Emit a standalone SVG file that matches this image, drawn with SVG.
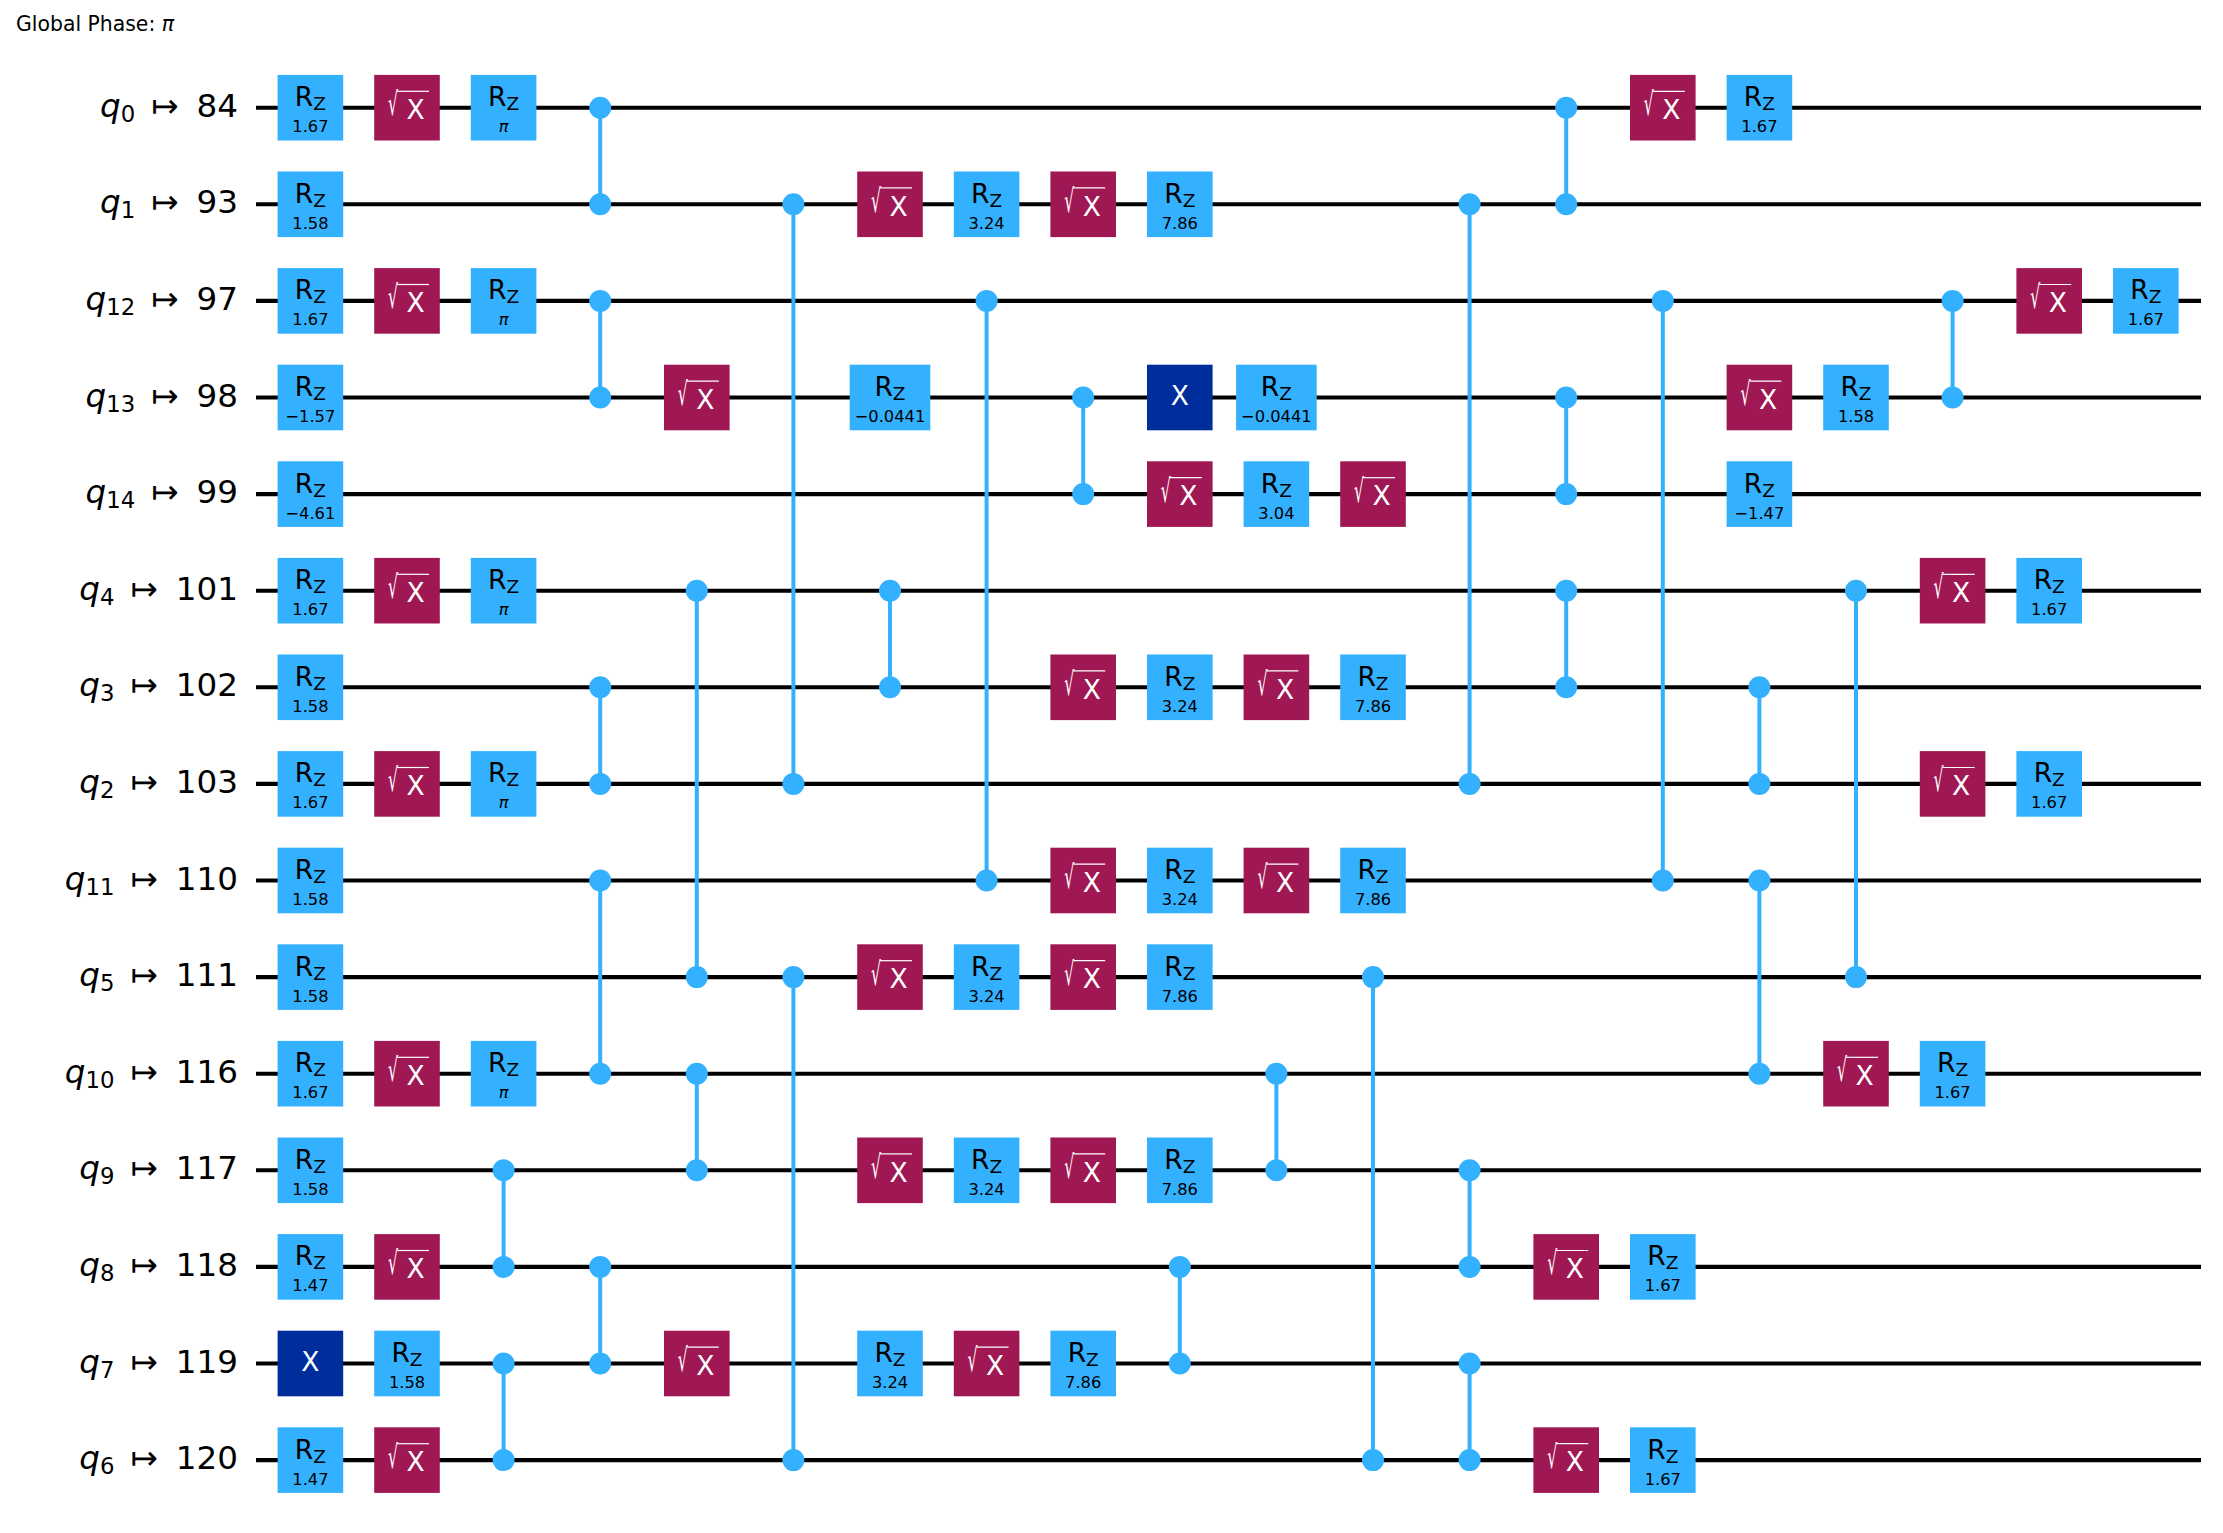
<svg xmlns="http://www.w3.org/2000/svg" width="2223" height="1533" viewBox="0 0 2223 1533">
<style>
text{font-family:"DejaVu Sans",sans-serif;fill:#000}
.wire{stroke:#000;stroke-width:4.1;fill:none}
.cz line{stroke:#33b1ff;stroke-width:4}
.cz circle{fill:#33b1ff}
.rz{fill:#33b1ff}
.sx{fill:#9f1853}
.x{fill:#002d9c}
.r{font-size:26.5px;text-anchor:middle}
.z{font-size:18.5px}
.p{font-size:16.3px;text-anchor:middle}
.pi{font-style:italic}
.sx text,.x text{fill:#fff;font-size:26.5px}
.x text{text-anchor:middle}
.sx text .rad{font-size:32px}
.bar{stroke:#fff;stroke-width:1.2}
.lb{font-size:32.6px;text-anchor:end}
.q{font-style:italic}
.sb{font-size:22.8px}
</style>
<rect width="2223" height="1533" fill="#fff"/>
<text id="global-phase" x="16" y="30.7" font-size="20.4">Global Phase: <tspan class="pi">π</tspan></text>
<g id="connectors">
<g id="wires">
<path class="wire" d="M256 107.7H2201M256 204.3H2201M256 300.9H2201M256 397.5H2201M256 494.1H2201M256 590.7H2201M256 687.3H2201M256 783.9H2201M256 880.5H2201M256 977.1H2201M256 1073.7H2201M256 1170.3H2201M256 1266.9H2201M256 1363.5H2201M256 1460.1H2201"/>
</g>
<g class="cz"><line x1="503.6" y1="1170.3" x2="503.6" y2="1266.9"/><circle cx="503.6" cy="1170.3" r="11"/><circle cx="503.6" cy="1266.9" r="11"/></g>
<g class="cz"><line x1="503.6" y1="1363.5" x2="503.6" y2="1460.1"/><circle cx="503.6" cy="1363.5" r="11"/><circle cx="503.6" cy="1460.1" r="11"/></g>
<g class="cz"><line x1="600.2" y1="107.7" x2="600.2" y2="204.3"/><circle cx="600.2" cy="107.7" r="11"/><circle cx="600.2" cy="204.3" r="11"/></g>
<g class="cz"><line x1="600.2" y1="300.9" x2="600.2" y2="397.5"/><circle cx="600.2" cy="300.9" r="11"/><circle cx="600.2" cy="397.5" r="11"/></g>
<g class="cz"><line x1="600.2" y1="687.3" x2="600.2" y2="783.9"/><circle cx="600.2" cy="687.3" r="11"/><circle cx="600.2" cy="783.9" r="11"/></g>
<g class="cz"><line x1="600.2" y1="880.5" x2="600.2" y2="1073.7"/><circle cx="600.2" cy="880.5" r="11"/><circle cx="600.2" cy="1073.7" r="11"/></g>
<g class="cz"><line x1="600.2" y1="1266.9" x2="600.2" y2="1363.5"/><circle cx="600.2" cy="1266.9" r="11"/><circle cx="600.2" cy="1363.5" r="11"/></g>
<g class="cz"><line x1="696.8" y1="590.7" x2="696.8" y2="977.1"/><circle cx="696.8" cy="590.7" r="11"/><circle cx="696.8" cy="977.1" r="11"/></g>
<g class="cz"><line x1="696.8" y1="1073.7" x2="696.8" y2="1170.3"/><circle cx="696.8" cy="1073.7" r="11"/><circle cx="696.8" cy="1170.3" r="11"/></g>
<g class="cz"><line x1="793.4" y1="204.3" x2="793.4" y2="783.9"/><circle cx="793.4" cy="204.3" r="11"/><circle cx="793.4" cy="783.9" r="11"/></g>
<g class="cz"><line x1="793.4" y1="977.1" x2="793.4" y2="1460.1"/><circle cx="793.4" cy="977.1" r="11"/><circle cx="793.4" cy="1460.1" r="11"/></g>
<g class="cz"><line x1="890" y1="590.7" x2="890" y2="687.3"/><circle cx="890" cy="590.7" r="11"/><circle cx="890" cy="687.3" r="11"/></g>
<g class="cz"><line x1="986.6" y1="300.9" x2="986.6" y2="880.5"/><circle cx="986.6" cy="300.9" r="11"/><circle cx="986.6" cy="880.5" r="11"/></g>
<g class="cz"><line x1="1083.2" y1="397.5" x2="1083.2" y2="494.1"/><circle cx="1083.2" cy="397.5" r="11"/><circle cx="1083.2" cy="494.1" r="11"/></g>
<g class="cz"><line x1="1179.8" y1="1266.9" x2="1179.8" y2="1363.5"/><circle cx="1179.8" cy="1266.9" r="11"/><circle cx="1179.8" cy="1363.5" r="11"/></g>
<g class="cz"><line x1="1276.4" y1="1073.7" x2="1276.4" y2="1170.3"/><circle cx="1276.4" cy="1073.7" r="11"/><circle cx="1276.4" cy="1170.3" r="11"/></g>
<g class="cz"><line x1="1373" y1="977.1" x2="1373" y2="1460.1"/><circle cx="1373" cy="977.1" r="11"/><circle cx="1373" cy="1460.1" r="11"/></g>
<g class="cz"><line x1="1469.6" y1="204.3" x2="1469.6" y2="783.9"/><circle cx="1469.6" cy="204.3" r="11"/><circle cx="1469.6" cy="783.9" r="11"/></g>
<g class="cz"><line x1="1469.6" y1="1170.3" x2="1469.6" y2="1266.9"/><circle cx="1469.6" cy="1170.3" r="11"/><circle cx="1469.6" cy="1266.9" r="11"/></g>
<g class="cz"><line x1="1469.6" y1="1363.5" x2="1469.6" y2="1460.1"/><circle cx="1469.6" cy="1363.5" r="11"/><circle cx="1469.6" cy="1460.1" r="11"/></g>
<g class="cz"><line x1="1566.2" y1="107.7" x2="1566.2" y2="204.3"/><circle cx="1566.2" cy="107.7" r="11"/><circle cx="1566.2" cy="204.3" r="11"/></g>
<g class="cz"><line x1="1566.2" y1="397.5" x2="1566.2" y2="494.1"/><circle cx="1566.2" cy="397.5" r="11"/><circle cx="1566.2" cy="494.1" r="11"/></g>
<g class="cz"><line x1="1566.2" y1="590.7" x2="1566.2" y2="687.3"/><circle cx="1566.2" cy="590.7" r="11"/><circle cx="1566.2" cy="687.3" r="11"/></g>
<g class="cz"><line x1="1662.8" y1="300.9" x2="1662.8" y2="880.5"/><circle cx="1662.8" cy="300.9" r="11"/><circle cx="1662.8" cy="880.5" r="11"/></g>
<g class="cz"><line x1="1759.4" y1="687.3" x2="1759.4" y2="783.9"/><circle cx="1759.4" cy="687.3" r="11"/><circle cx="1759.4" cy="783.9" r="11"/></g>
<g class="cz"><line x1="1759.4" y1="880.5" x2="1759.4" y2="1073.7"/><circle cx="1759.4" cy="880.5" r="11"/><circle cx="1759.4" cy="1073.7" r="11"/></g>
<g class="cz"><line x1="1856" y1="590.7" x2="1856" y2="977.1"/><circle cx="1856" cy="590.7" r="11"/><circle cx="1856" cy="977.1" r="11"/></g>
<g class="cz"><line x1="1952.6" y1="300.9" x2="1952.6" y2="397.5"/><circle cx="1952.6" cy="300.9" r="11"/><circle cx="1952.6" cy="397.5" r="11"/></g>
</g>
<g id="labels">
<text id="label-q0" class="lb" x="238" y="116.7"><tspan class="q">q</tspan><tspan class="sb" dy="5">0</tspan><tspan dx="16" dy="-5">↦</tspan><tspan dx="18">84</tspan></text>
<text id="label-q1" class="lb" x="238" y="213.3"><tspan class="q">q</tspan><tspan class="sb" dy="5">1</tspan><tspan dx="16" dy="-5">↦</tspan><tspan dx="18">93</tspan></text>
<text id="label-q12" class="lb" x="238" y="309.9"><tspan class="q">q</tspan><tspan class="sb" dy="5">12</tspan><tspan dx="16" dy="-5">↦</tspan><tspan dx="18">97</tspan></text>
<text id="label-q13" class="lb" x="238" y="406.5"><tspan class="q">q</tspan><tspan class="sb" dy="5">13</tspan><tspan dx="16" dy="-5">↦</tspan><tspan dx="18">98</tspan></text>
<text id="label-q14" class="lb" x="238" y="503.1"><tspan class="q">q</tspan><tspan class="sb" dy="5">14</tspan><tspan dx="16" dy="-5">↦</tspan><tspan dx="18">99</tspan></text>
<text id="label-q4" class="lb" x="238" y="599.7"><tspan class="q">q</tspan><tspan class="sb" dy="5">4</tspan><tspan dx="16" dy="-5">↦</tspan><tspan dx="18">101</tspan></text>
<text id="label-q3" class="lb" x="238" y="696.3"><tspan class="q">q</tspan><tspan class="sb" dy="5">3</tspan><tspan dx="16" dy="-5">↦</tspan><tspan dx="18">102</tspan></text>
<text id="label-q2" class="lb" x="238" y="792.9"><tspan class="q">q</tspan><tspan class="sb" dy="5">2</tspan><tspan dx="16" dy="-5">↦</tspan><tspan dx="18">103</tspan></text>
<text id="label-q11" class="lb" x="238" y="889.5"><tspan class="q">q</tspan><tspan class="sb" dy="5">11</tspan><tspan dx="16" dy="-5">↦</tspan><tspan dx="18">110</tspan></text>
<text id="label-q5" class="lb" x="238" y="986.1"><tspan class="q">q</tspan><tspan class="sb" dy="5">5</tspan><tspan dx="16" dy="-5">↦</tspan><tspan dx="18">111</tspan></text>
<text id="label-q10" class="lb" x="238" y="1082.7"><tspan class="q">q</tspan><tspan class="sb" dy="5">10</tspan><tspan dx="16" dy="-5">↦</tspan><tspan dx="18">116</tspan></text>
<text id="label-q9" class="lb" x="238" y="1179.3"><tspan class="q">q</tspan><tspan class="sb" dy="5">9</tspan><tspan dx="16" dy="-5">↦</tspan><tspan dx="18">117</tspan></text>
<text id="label-q8" class="lb" x="238" y="1275.9"><tspan class="q">q</tspan><tspan class="sb" dy="5">8</tspan><tspan dx="16" dy="-5">↦</tspan><tspan dx="18">118</tspan></text>
<text id="label-q7" class="lb" x="238" y="1372.5"><tspan class="q">q</tspan><tspan class="sb" dy="5">7</tspan><tspan dx="16" dy="-5">↦</tspan><tspan dx="18">119</tspan></text>
<text id="label-q6" class="lb" x="238" y="1469.1"><tspan class="q">q</tspan><tspan class="sb" dy="5">6</tspan><tspan dx="16" dy="-5">↦</tspan><tspan dx="18">120</tspan></text>
</g>
<g id="gates">
<defs>
<rect id="b" x="-32.8" y="-32.8" width="65.6" height="65.6"/>
<rect id="bw" x="-40.3" y="-32.8" width="80.6" height="65.6"/>
<line id="sb" class="bar" x1="-10" y1="-16.4" x2="22" y2="-16.4"/>
</defs>
<g id="w0-rz0" class="rz" transform="translate(310.4,107.7)"><use href="#b"/><text class="r" y="-1.5">R<tspan class="z" dy="4">Z</tspan></text><text class="p" y="24.5">1.67</text></g>
<g id="w0-sx1" class="sx" transform="translate(407,107.7)"><use href="#b"/><use href="#sb"/><text x="-19"><tspan class="rad" y="7.5" textLength="10" lengthAdjust="spacingAndGlyphs">√</tspan><tspan x="-0.5" y="11.3">X</tspan></text></g>
<g id="w0-rz2" class="rz" transform="translate(503.6,107.7)"><use href="#b"/><text class="r" y="-1.5">R<tspan class="z" dy="4">Z</tspan></text><text class="p pi" y="24.5">π</text></g>
<g id="w0-sx14" class="sx" transform="translate(1662.8,107.7)"><use href="#b"/><use href="#sb"/><text x="-19"><tspan class="rad" y="7.5" textLength="10" lengthAdjust="spacingAndGlyphs">√</tspan><tspan x="-0.5" y="11.3">X</tspan></text></g>
<g id="w0-rz15" class="rz" transform="translate(1759.4,107.7)"><use href="#b"/><text class="r" y="-1.5">R<tspan class="z" dy="4">Z</tspan></text><text class="p" y="24.5">1.67</text></g>
<g id="w1-rz0" class="rz" transform="translate(310.4,204.3)"><use href="#b"/><text class="r" y="-1.5">R<tspan class="z" dy="4">Z</tspan></text><text class="p" y="24.5">1.58</text></g>
<g id="w1-sx6" class="sx" transform="translate(890,204.3)"><use href="#b"/><use href="#sb"/><text x="-19"><tspan class="rad" y="7.5" textLength="10" lengthAdjust="spacingAndGlyphs">√</tspan><tspan x="-0.5" y="11.3">X</tspan></text></g>
<g id="w1-rz7" class="rz" transform="translate(986.6,204.3)"><use href="#b"/><text class="r" y="-1.5">R<tspan class="z" dy="4">Z</tspan></text><text class="p" y="24.5">3.24</text></g>
<g id="w1-sx8" class="sx" transform="translate(1083.2,204.3)"><use href="#b"/><use href="#sb"/><text x="-19"><tspan class="rad" y="7.5" textLength="10" lengthAdjust="spacingAndGlyphs">√</tspan><tspan x="-0.5" y="11.3">X</tspan></text></g>
<g id="w1-rz9" class="rz" transform="translate(1179.8,204.3)"><use href="#b"/><text class="r" y="-1.5">R<tspan class="z" dy="4">Z</tspan></text><text class="p" y="24.5">7.86</text></g>
<g id="w2-rz0" class="rz" transform="translate(310.4,300.9)"><use href="#b"/><text class="r" y="-1.5">R<tspan class="z" dy="4">Z</tspan></text><text class="p" y="24.5">1.67</text></g>
<g id="w2-sx1" class="sx" transform="translate(407,300.9)"><use href="#b"/><use href="#sb"/><text x="-19"><tspan class="rad" y="7.5" textLength="10" lengthAdjust="spacingAndGlyphs">√</tspan><tspan x="-0.5" y="11.3">X</tspan></text></g>
<g id="w2-rz2" class="rz" transform="translate(503.6,300.9)"><use href="#b"/><text class="r" y="-1.5">R<tspan class="z" dy="4">Z</tspan></text><text class="p pi" y="24.5">π</text></g>
<g id="w2-sx18" class="sx" transform="translate(2049.2,300.9)"><use href="#b"/><use href="#sb"/><text x="-19"><tspan class="rad" y="7.5" textLength="10" lengthAdjust="spacingAndGlyphs">√</tspan><tspan x="-0.5" y="11.3">X</tspan></text></g>
<g id="w2-rz19" class="rz" transform="translate(2145.8,300.9)"><use href="#b"/><text class="r" y="-1.5">R<tspan class="z" dy="4">Z</tspan></text><text class="p" y="24.5">1.67</text></g>
<g id="w3-rz0" class="rz" transform="translate(310.4,397.5)"><use href="#b"/><text class="r" y="-1.5">R<tspan class="z" dy="4">Z</tspan></text><text class="p" y="24.5">−1.57</text></g>
<g id="w3-sx4" class="sx" transform="translate(696.8,397.5)"><use href="#b"/><use href="#sb"/><text x="-19"><tspan class="rad" y="7.5" textLength="10" lengthAdjust="spacingAndGlyphs">√</tspan><tspan x="-0.5" y="11.3">X</tspan></text></g>
<g id="w3-rz6" class="rz" transform="translate(890,397.5)"><use href="#bw"/><text class="r" y="-1.5">R<tspan class="z" dy="4">Z</tspan></text><text class="p" y="24.5">−0.0441</text></g>
<g id="w3-x9" class="x" transform="translate(1179.8,397.5)"><use href="#b"/><text y="7.5">X</text></g>
<g id="w3-rz10" class="rz" transform="translate(1276.4,397.5)"><use href="#bw"/><text class="r" y="-1.5">R<tspan class="z" dy="4">Z</tspan></text><text class="p" y="24.5">−0.0441</text></g>
<g id="w3-sx15" class="sx" transform="translate(1759.4,397.5)"><use href="#b"/><use href="#sb"/><text x="-19"><tspan class="rad" y="7.5" textLength="10" lengthAdjust="spacingAndGlyphs">√</tspan><tspan x="-0.5" y="11.3">X</tspan></text></g>
<g id="w3-rz16" class="rz" transform="translate(1856,397.5)"><use href="#b"/><text class="r" y="-1.5">R<tspan class="z" dy="4">Z</tspan></text><text class="p" y="24.5">1.58</text></g>
<g id="w4-rz0" class="rz" transform="translate(310.4,494.1)"><use href="#b"/><text class="r" y="-1.5">R<tspan class="z" dy="4">Z</tspan></text><text class="p" y="24.5">−4.61</text></g>
<g id="w4-sx9" class="sx" transform="translate(1179.8,494.1)"><use href="#b"/><use href="#sb"/><text x="-19"><tspan class="rad" y="7.5" textLength="10" lengthAdjust="spacingAndGlyphs">√</tspan><tspan x="-0.5" y="11.3">X</tspan></text></g>
<g id="w4-rz10" class="rz" transform="translate(1276.4,494.1)"><use href="#b"/><text class="r" y="-1.5">R<tspan class="z" dy="4">Z</tspan></text><text class="p" y="24.5">3.04</text></g>
<g id="w4-sx11" class="sx" transform="translate(1373,494.1)"><use href="#b"/><use href="#sb"/><text x="-19"><tspan class="rad" y="7.5" textLength="10" lengthAdjust="spacingAndGlyphs">√</tspan><tspan x="-0.5" y="11.3">X</tspan></text></g>
<g id="w4-rz15" class="rz" transform="translate(1759.4,494.1)"><use href="#b"/><text class="r" y="-1.5">R<tspan class="z" dy="4">Z</tspan></text><text class="p" y="24.5">−1.47</text></g>
<g id="w5-rz0" class="rz" transform="translate(310.4,590.7)"><use href="#b"/><text class="r" y="-1.5">R<tspan class="z" dy="4">Z</tspan></text><text class="p" y="24.5">1.67</text></g>
<g id="w5-sx1" class="sx" transform="translate(407,590.7)"><use href="#b"/><use href="#sb"/><text x="-19"><tspan class="rad" y="7.5" textLength="10" lengthAdjust="spacingAndGlyphs">√</tspan><tspan x="-0.5" y="11.3">X</tspan></text></g>
<g id="w5-rz2" class="rz" transform="translate(503.6,590.7)"><use href="#b"/><text class="r" y="-1.5">R<tspan class="z" dy="4">Z</tspan></text><text class="p pi" y="24.5">π</text></g>
<g id="w5-sx17" class="sx" transform="translate(1952.6,590.7)"><use href="#b"/><use href="#sb"/><text x="-19"><tspan class="rad" y="7.5" textLength="10" lengthAdjust="spacingAndGlyphs">√</tspan><tspan x="-0.5" y="11.3">X</tspan></text></g>
<g id="w5-rz18" class="rz" transform="translate(2049.2,590.7)"><use href="#b"/><text class="r" y="-1.5">R<tspan class="z" dy="4">Z</tspan></text><text class="p" y="24.5">1.67</text></g>
<g id="w6-rz0" class="rz" transform="translate(310.4,687.3)"><use href="#b"/><text class="r" y="-1.5">R<tspan class="z" dy="4">Z</tspan></text><text class="p" y="24.5">1.58</text></g>
<g id="w6-sx8" class="sx" transform="translate(1083.2,687.3)"><use href="#b"/><use href="#sb"/><text x="-19"><tspan class="rad" y="7.5" textLength="10" lengthAdjust="spacingAndGlyphs">√</tspan><tspan x="-0.5" y="11.3">X</tspan></text></g>
<g id="w6-rz9" class="rz" transform="translate(1179.8,687.3)"><use href="#b"/><text class="r" y="-1.5">R<tspan class="z" dy="4">Z</tspan></text><text class="p" y="24.5">3.24</text></g>
<g id="w6-sx10" class="sx" transform="translate(1276.4,687.3)"><use href="#b"/><use href="#sb"/><text x="-19"><tspan class="rad" y="7.5" textLength="10" lengthAdjust="spacingAndGlyphs">√</tspan><tspan x="-0.5" y="11.3">X</tspan></text></g>
<g id="w6-rz11" class="rz" transform="translate(1373,687.3)"><use href="#b"/><text class="r" y="-1.5">R<tspan class="z" dy="4">Z</tspan></text><text class="p" y="24.5">7.86</text></g>
<g id="w7-rz0" class="rz" transform="translate(310.4,783.9)"><use href="#b"/><text class="r" y="-1.5">R<tspan class="z" dy="4">Z</tspan></text><text class="p" y="24.5">1.67</text></g>
<g id="w7-sx1" class="sx" transform="translate(407,783.9)"><use href="#b"/><use href="#sb"/><text x="-19"><tspan class="rad" y="7.5" textLength="10" lengthAdjust="spacingAndGlyphs">√</tspan><tspan x="-0.5" y="11.3">X</tspan></text></g>
<g id="w7-rz2" class="rz" transform="translate(503.6,783.9)"><use href="#b"/><text class="r" y="-1.5">R<tspan class="z" dy="4">Z</tspan></text><text class="p pi" y="24.5">π</text></g>
<g id="w7-sx17" class="sx" transform="translate(1952.6,783.9)"><use href="#b"/><use href="#sb"/><text x="-19"><tspan class="rad" y="7.5" textLength="10" lengthAdjust="spacingAndGlyphs">√</tspan><tspan x="-0.5" y="11.3">X</tspan></text></g>
<g id="w7-rz18" class="rz" transform="translate(2049.2,783.9)"><use href="#b"/><text class="r" y="-1.5">R<tspan class="z" dy="4">Z</tspan></text><text class="p" y="24.5">1.67</text></g>
<g id="w8-rz0" class="rz" transform="translate(310.4,880.5)"><use href="#b"/><text class="r" y="-1.5">R<tspan class="z" dy="4">Z</tspan></text><text class="p" y="24.5">1.58</text></g>
<g id="w8-sx8" class="sx" transform="translate(1083.2,880.5)"><use href="#b"/><use href="#sb"/><text x="-19"><tspan class="rad" y="7.5" textLength="10" lengthAdjust="spacingAndGlyphs">√</tspan><tspan x="-0.5" y="11.3">X</tspan></text></g>
<g id="w8-rz9" class="rz" transform="translate(1179.8,880.5)"><use href="#b"/><text class="r" y="-1.5">R<tspan class="z" dy="4">Z</tspan></text><text class="p" y="24.5">3.24</text></g>
<g id="w8-sx10" class="sx" transform="translate(1276.4,880.5)"><use href="#b"/><use href="#sb"/><text x="-19"><tspan class="rad" y="7.5" textLength="10" lengthAdjust="spacingAndGlyphs">√</tspan><tspan x="-0.5" y="11.3">X</tspan></text></g>
<g id="w8-rz11" class="rz" transform="translate(1373,880.5)"><use href="#b"/><text class="r" y="-1.5">R<tspan class="z" dy="4">Z</tspan></text><text class="p" y="24.5">7.86</text></g>
<g id="w9-rz0" class="rz" transform="translate(310.4,977.1)"><use href="#b"/><text class="r" y="-1.5">R<tspan class="z" dy="4">Z</tspan></text><text class="p" y="24.5">1.58</text></g>
<g id="w9-sx6" class="sx" transform="translate(890,977.1)"><use href="#b"/><use href="#sb"/><text x="-19"><tspan class="rad" y="7.5" textLength="10" lengthAdjust="spacingAndGlyphs">√</tspan><tspan x="-0.5" y="11.3">X</tspan></text></g>
<g id="w9-rz7" class="rz" transform="translate(986.6,977.1)"><use href="#b"/><text class="r" y="-1.5">R<tspan class="z" dy="4">Z</tspan></text><text class="p" y="24.5">3.24</text></g>
<g id="w9-sx8" class="sx" transform="translate(1083.2,977.1)"><use href="#b"/><use href="#sb"/><text x="-19"><tspan class="rad" y="7.5" textLength="10" lengthAdjust="spacingAndGlyphs">√</tspan><tspan x="-0.5" y="11.3">X</tspan></text></g>
<g id="w9-rz9" class="rz" transform="translate(1179.8,977.1)"><use href="#b"/><text class="r" y="-1.5">R<tspan class="z" dy="4">Z</tspan></text><text class="p" y="24.5">7.86</text></g>
<g id="w10-rz0" class="rz" transform="translate(310.4,1073.7)"><use href="#b"/><text class="r" y="-1.5">R<tspan class="z" dy="4">Z</tspan></text><text class="p" y="24.5">1.67</text></g>
<g id="w10-sx1" class="sx" transform="translate(407,1073.7)"><use href="#b"/><use href="#sb"/><text x="-19"><tspan class="rad" y="7.5" textLength="10" lengthAdjust="spacingAndGlyphs">√</tspan><tspan x="-0.5" y="11.3">X</tspan></text></g>
<g id="w10-rz2" class="rz" transform="translate(503.6,1073.7)"><use href="#b"/><text class="r" y="-1.5">R<tspan class="z" dy="4">Z</tspan></text><text class="p pi" y="24.5">π</text></g>
<g id="w10-sx16" class="sx" transform="translate(1856,1073.7)"><use href="#b"/><use href="#sb"/><text x="-19"><tspan class="rad" y="7.5" textLength="10" lengthAdjust="spacingAndGlyphs">√</tspan><tspan x="-0.5" y="11.3">X</tspan></text></g>
<g id="w10-rz17" class="rz" transform="translate(1952.6,1073.7)"><use href="#b"/><text class="r" y="-1.5">R<tspan class="z" dy="4">Z</tspan></text><text class="p" y="24.5">1.67</text></g>
<g id="w11-rz0" class="rz" transform="translate(310.4,1170.3)"><use href="#b"/><text class="r" y="-1.5">R<tspan class="z" dy="4">Z</tspan></text><text class="p" y="24.5">1.58</text></g>
<g id="w11-sx6" class="sx" transform="translate(890,1170.3)"><use href="#b"/><use href="#sb"/><text x="-19"><tspan class="rad" y="7.5" textLength="10" lengthAdjust="spacingAndGlyphs">√</tspan><tspan x="-0.5" y="11.3">X</tspan></text></g>
<g id="w11-rz7" class="rz" transform="translate(986.6,1170.3)"><use href="#b"/><text class="r" y="-1.5">R<tspan class="z" dy="4">Z</tspan></text><text class="p" y="24.5">3.24</text></g>
<g id="w11-sx8" class="sx" transform="translate(1083.2,1170.3)"><use href="#b"/><use href="#sb"/><text x="-19"><tspan class="rad" y="7.5" textLength="10" lengthAdjust="spacingAndGlyphs">√</tspan><tspan x="-0.5" y="11.3">X</tspan></text></g>
<g id="w11-rz9" class="rz" transform="translate(1179.8,1170.3)"><use href="#b"/><text class="r" y="-1.5">R<tspan class="z" dy="4">Z</tspan></text><text class="p" y="24.5">7.86</text></g>
<g id="w12-rz0" class="rz" transform="translate(310.4,1266.9)"><use href="#b"/><text class="r" y="-1.5">R<tspan class="z" dy="4">Z</tspan></text><text class="p" y="24.5">1.47</text></g>
<g id="w12-sx1" class="sx" transform="translate(407,1266.9)"><use href="#b"/><use href="#sb"/><text x="-19"><tspan class="rad" y="7.5" textLength="10" lengthAdjust="spacingAndGlyphs">√</tspan><tspan x="-0.5" y="11.3">X</tspan></text></g>
<g id="w12-sx13" class="sx" transform="translate(1566.2,1266.9)"><use href="#b"/><use href="#sb"/><text x="-19"><tspan class="rad" y="7.5" textLength="10" lengthAdjust="spacingAndGlyphs">√</tspan><tspan x="-0.5" y="11.3">X</tspan></text></g>
<g id="w12-rz14" class="rz" transform="translate(1662.8,1266.9)"><use href="#b"/><text class="r" y="-1.5">R<tspan class="z" dy="4">Z</tspan></text><text class="p" y="24.5">1.67</text></g>
<g id="w13-x0" class="x" transform="translate(310.4,1363.5)"><use href="#b"/><text y="7.5">X</text></g>
<g id="w13-rz1" class="rz" transform="translate(407,1363.5)"><use href="#b"/><text class="r" y="-1.5">R<tspan class="z" dy="4">Z</tspan></text><text class="p" y="24.5">1.58</text></g>
<g id="w13-sx4" class="sx" transform="translate(696.8,1363.5)"><use href="#b"/><use href="#sb"/><text x="-19"><tspan class="rad" y="7.5" textLength="10" lengthAdjust="spacingAndGlyphs">√</tspan><tspan x="-0.5" y="11.3">X</tspan></text></g>
<g id="w13-rz6" class="rz" transform="translate(890,1363.5)"><use href="#b"/><text class="r" y="-1.5">R<tspan class="z" dy="4">Z</tspan></text><text class="p" y="24.5">3.24</text></g>
<g id="w13-sx7" class="sx" transform="translate(986.6,1363.5)"><use href="#b"/><use href="#sb"/><text x="-19"><tspan class="rad" y="7.5" textLength="10" lengthAdjust="spacingAndGlyphs">√</tspan><tspan x="-0.5" y="11.3">X</tspan></text></g>
<g id="w13-rz8" class="rz" transform="translate(1083.2,1363.5)"><use href="#b"/><text class="r" y="-1.5">R<tspan class="z" dy="4">Z</tspan></text><text class="p" y="24.5">7.86</text></g>
<g id="w14-rz0" class="rz" transform="translate(310.4,1460.1)"><use href="#b"/><text class="r" y="-1.5">R<tspan class="z" dy="4">Z</tspan></text><text class="p" y="24.5">1.47</text></g>
<g id="w14-sx1" class="sx" transform="translate(407,1460.1)"><use href="#b"/><use href="#sb"/><text x="-19"><tspan class="rad" y="7.5" textLength="10" lengthAdjust="spacingAndGlyphs">√</tspan><tspan x="-0.5" y="11.3">X</tspan></text></g>
<g id="w14-sx13" class="sx" transform="translate(1566.2,1460.1)"><use href="#b"/><use href="#sb"/><text x="-19"><tspan class="rad" y="7.5" textLength="10" lengthAdjust="spacingAndGlyphs">√</tspan><tspan x="-0.5" y="11.3">X</tspan></text></g>
<g id="w14-rz14" class="rz" transform="translate(1662.8,1460.1)"><use href="#b"/><text class="r" y="-1.5">R<tspan class="z" dy="4">Z</tspan></text><text class="p" y="24.5">1.67</text></g>
</g>
</svg>
